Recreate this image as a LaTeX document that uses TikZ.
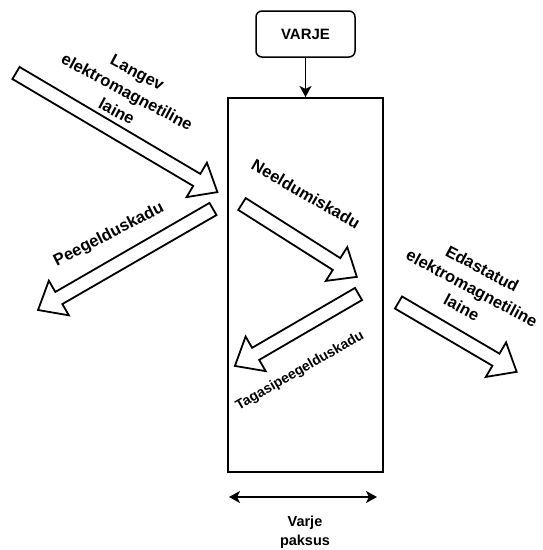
\documentclass[tikz,border=0pt]{standalone}
\usepackage{fontspec}
\setsansfont{Liberation Sans}
\usetikzlibrary{arrows.meta}

\begin{document}
\begin{tikzpicture}[x=1pt, y=-1pt, font=\sffamily\bfseries,
    >={Stealth[length=11pt,width=12pt,inset=3pt]},
    silt/.style={font=\sffamily\bfseries\fontsize{16.5}{22}\selectfont, align=center, inner sep=0pt},
    blokk/.style={draw=black, line width=1.8pt, fill=white, line join=miter}]
  \useasboundingbox (0,0) rectangle (543,550);
  % varje ja kiht
  \node[draw, line width=1.5pt, rounded corners=6pt, minimum width=99pt, minimum height=46pt,
        font=\sffamily\bfseries\fontsize{15}{18}\selectfont] (varje) at (305.5,34) {VARJE};
  \node[draw, line width=2pt, minimum width=155pt, minimum height=374pt] (kiht) at (305.5,285) {};
  \draw[->, line width=1.5pt] (varje) -- (kiht);
  % paksus
  \coordinate (paksusV) at (229,497);
  \coordinate (paksusP) at (377,497);
  \draw[<->, line width=1.8pt] (paksusV) -- (paksusP);
  \node[silt, font=\sffamily\bfseries\fontsize{14.5}{19}\selectfont] (paksus) at (305,532) {Varje\\paksus};
  % lainete nooled
  \foreach \tx/\ty/\nurk/\pikk in {16/73/-30.6/234, 213/209/-150/202, 242/204/-32.4/136,
                                   358.5/294/-149.8/143, 398.5/302.5/-30.4/137} {
    \begin{scope}[shift={(\tx,\ty)}, rotate=\nurk]
      \draw[blokk] (0,-7) -- (\pikk-24,-7) -- (\pikk-24,-20) -- (\pikk,0)
        -- (\pikk-24,20) -- (\pikk-24,7) -- (0,7) -- cycle;
    \end{scope}
  }
  % sildid
  \node[silt, rotate=-28] (langev) at (127,92) {Langev\\elektromagnetiline\\laine};
  \node[silt, rotate=27] (peegel) at (109,235) {Peegelduskadu};
  \node[silt, rotate=-30] (neeld) at (306,194) {Neeldumiskadu};
  \node[silt, rotate=30, font=\sffamily\bfseries\fontsize{14}{18}\selectfont] (tagasi) at (300,371) {Tagasipeegelduskadu};
  \node[silt, rotate=-28] (edast) at (472,288) {Edastatud\\elektromagnetiline\\laine};
\end{tikzpicture}
\end{document}
